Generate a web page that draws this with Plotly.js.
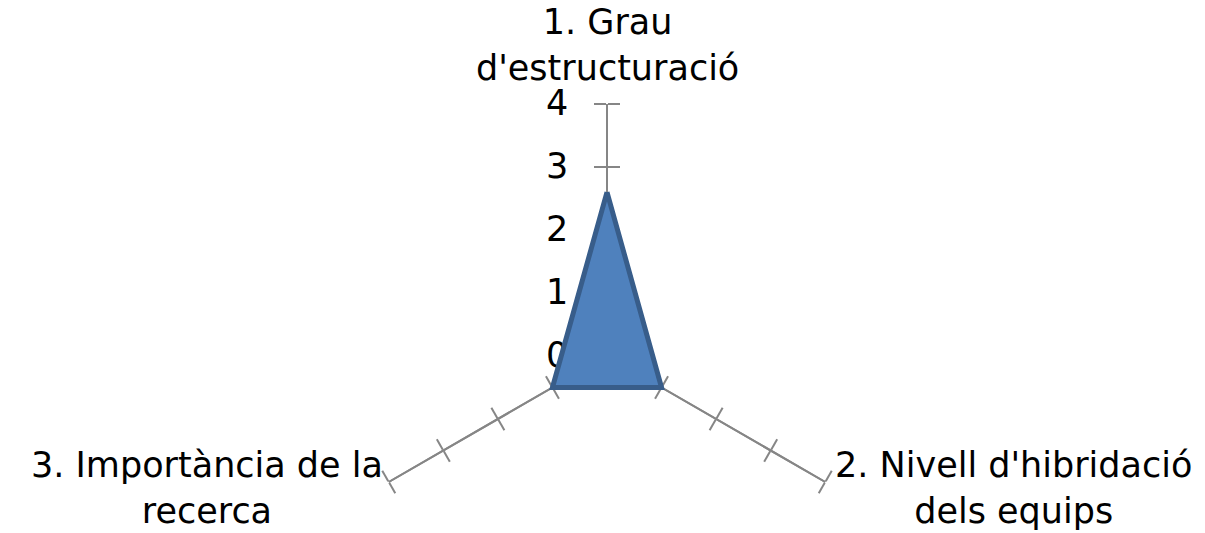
<!DOCTYPE html>
<html><head><meta charset="utf-8">
<script src="https://cdn.plot.ly/plotly-3.0.1.min.js"></script>
<style>html,body{margin:0;padding:0;background:#fff}</style>
</head><body><div id="chart" style="width:1205px;height:533px"></div>
<script>
const categories = ["1. Grau<br>d'estructuració", "2. Nivell d'hibridació<br>dels equips", "3. Importància de la<br>recerca"];
const values = [2.6, 1, 1];
const tickValues = [0, 1, 2, 3, 4];
const tickLabels = ["0", "1", "2", "3", "4"];
const spokeAngles = [90, -30, 210];
const rMax = 4;

const W = 1205, H = 533;
const FONT = "DejaVu Sans";
const axisGray = "#868686";
// target geometry (px): centre and radius of the radar
const CX = 607, CY = 356, R = 252;
const fit = 0.866; // observed plotly sector fit factor
const domH = R * 1.5 / fit, domW = domH * (1.732 / 1.5);
const domCY = CY - 0.25 * R;
const domain = {
  x: [(CX - domW / 2) / W, (CX + domW / 2) / W],
  y: [(H - (domCY + domH / 2)) / H, (H - (domCY - domH / 2)) / H]
};
// full-circle subplot for the data (so the filled area is not clipped by a sector)
const Rd = Math.min(CY, H - CY);
const dataDomain = {
  x: [(CX - Rd) / W, (CX + Rd) / W],
  y: [(H - (CY + Rd)) / H, (H - (CY - Rd)) / H]
};

const layout = {
  width: W, height: H,
  margin: {l: 0, r: 0, t: 0, b: 0},
  paper_bgcolor: "#fff",
  showlegend: false,
  font: {family: FONT, size: 35, color: "#000"},
  annotations: []
};
const angular = {
  type: "category", categoryarray: categories, categoryorder: "array",
  rotation: 90, direction: "clockwise",
  showline: false, showgrid: false, ticks: "", showticklabels: false
};
const traces = [];
let idx = 0;
function addPolar(radial, dom, extra) {
  idx++;
  const name = idx === 1 ? "polar" : "polar" + idx;
  layout[name] = Object.assign({
    domain: dom,
    bgcolor: "rgba(0,0,0,0)",
    angularaxis: Object.assign({}, angular),
    radialaxis: radial
  }, extra || {});
  return name;
}
// tick labels of the value axis (left of the vertical spoke)
let nm = addPolar({
  range: [0, rMax], angle: spokeAngles[0], side: "counterclockwise",
  tickvals: tickValues, ticktext: tickLabels,
  ticks: "outside", ticklen: 26, tickwidth: 1, tickcolor: "rgba(0,0,0,0)",
  showline: false, showgrid: false, showticklabels: true, tickangle: 90,
  tickfont: {family: FONT, size: 35, color: "#000"}, layer: "below traces"
}, domain, {sector: [-30, 210]});
traces.push({type: "scatterpolar", subplot: nm, r: values, theta: categories, mode: "none", hoverinfo: "skip"});
// spokes with crossing tick marks
const sides = ["counterclockwise", "clockwise"];
spokeAngles.forEach((ang) => {
  sides.forEach((side) => {
    const name = addPolar({
      range: [0, rMax], angle: ang, side: side,
      tickvals: tickValues,
      ticks: "outside", ticklen: 12, tickwidth: 2, tickcolor: axisGray,
      showline: true, linecolor: axisGray, linewidth: 2,
      showgrid: false, showticklabels: false,
      layer: "below traces"
    }, domain, {sector: [-30, 210]});
    traces.push({type: "scatterpolar", subplot: name, r: values, theta: categories, mode: "none", hoverinfo: "skip"});
  });
});
// data polygon
const dataName = addPolar({visible: false, range: [0, rMax * Rd / R]}, dataDomain);
traces.push({
  type: "scatterpolar", subplot: dataName,
  r: values.concat([values[0]]),
  theta: categories.concat([categories[0]]),
  mode: "lines", fill: "toself",
  fillcolor: "#4F81BD",
  line: {color: "#385D8A", width: 5},
  hoverinfo: "skip"
});

// category labels at the end of each spoke
const labelPos = [
  {dx: 0, dy: -14, xa: "center", ya: "bottom"},
  {dx: 8, dy: 6, xa: "left", ya: "middle"},
  {dx: -4, dy: 6, xa: "right", ya: "middle"}
];
categories.forEach((c, i) => {
  const a = spokeAngles[i] * Math.PI / 180;
  const ex = CX + R * Math.cos(a), ey = CY - R * Math.sin(a);
  const p = labelPos[i];
  layout.annotations.push({
    text: c, xref: "paper", yref: "paper",
    x: (ex + p.dx) / W, y: (H - (ey + p.dy)) / H,
    xanchor: p.xa, yanchor: p.ya, align: "center", showarrow: false,
    font: {family: FONT, size: 35, color: "#000"}
  });
});

Plotly.newPlot("chart", traces, layout, {staticPlot: true});
</script></body></html>
